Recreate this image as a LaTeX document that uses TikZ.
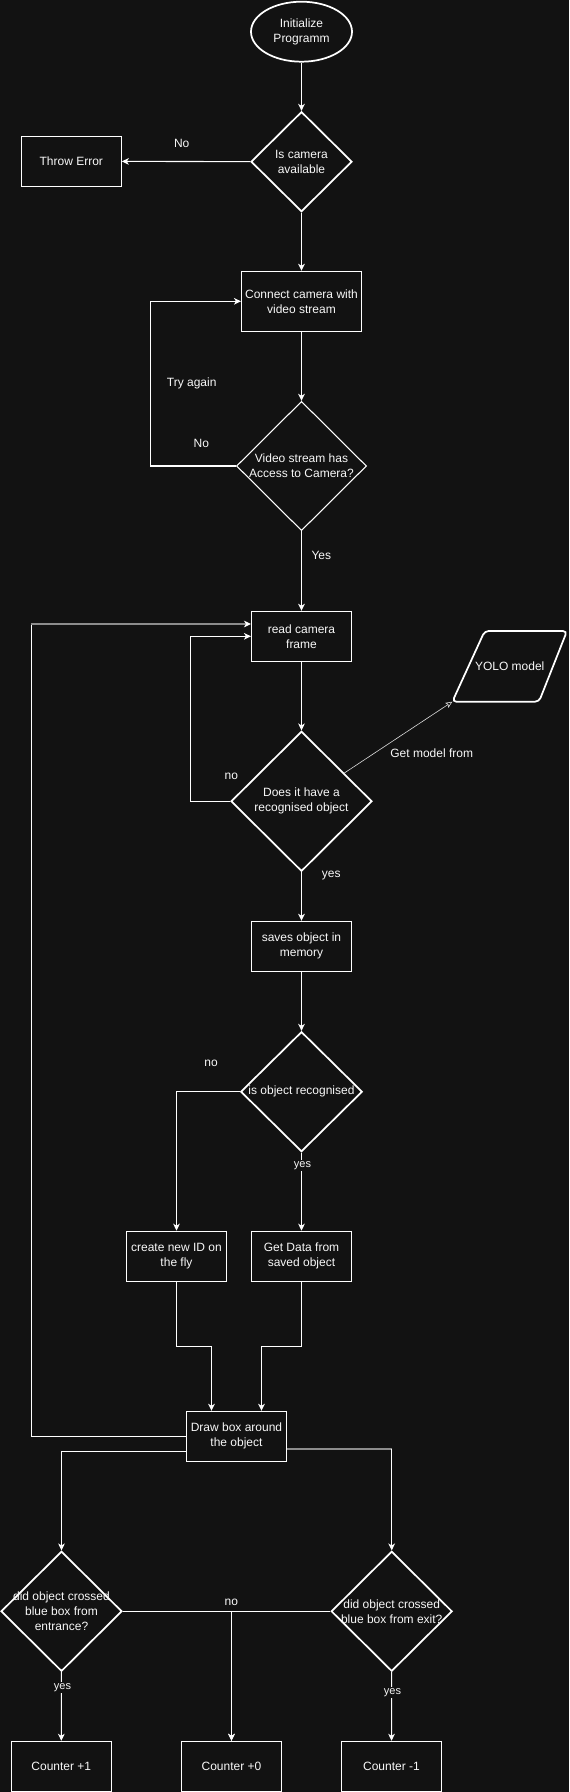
\documentclass[tikz,border=0pt]{standalone}
\usepackage{fontspec}
\setmainfont{Liberation Sans}
\usetikzlibrary{shapes.geometric,arrows.meta,calc}
\definecolor{bg}{HTML}{121212}
\definecolor{fg}{HTML}{F8F8F8}
\definecolor{dimline}{HTML}{8C8C8C}

\begin{document}
\begin{tikzpicture}[x=0.75pt,y=-0.75pt,
    font=\fontsize{9}{11.25}\selectfont, text=fg,
    box/.style={draw=white, line width=0.8pt, minimum width=75pt, minimum height=37.5pt, inner sep=0pt, align=center},
    decision/.style={diamond, draw=white, line width=1.3pt, inner sep=0pt},
    link/.style={draw=white, line width=0.8pt},
    flow/.style={link, -{Stealth[length=5.25pt,width=5pt,inset=1.5pt]}},
    flowgrey/.style={link, draw=dimline, -{Stealth[length=5.25pt,width=5pt,inset=1.5pt,color=white]}},
    lbl/.style={inner sep=1pt, align=center},
    lblsmall/.style={lbl, fill=bg, font=\fontsize{8.25}{10}\selectfont}]
        \useasboundingbox[fill=bg] (0,0) rectangle (569,1792);
        % nodes
        \node[ellipse, draw=white, line width=1.3pt, minimum width=75.75pt, minimum height=45pt, inner sep=0pt, align=center] (init) at (301.5,31.7) {Initialize\\Programm};
        \node[decision, minimum width=75.75pt, minimum height=75pt, label={[lbl]center:Is camera\\available}] (camok) at (301.5,161.7) {};
        \node[box] (err) at (71.3,161.3) {Throw Error};
        \node[box, minimum width=90pt, minimum height=45pt] (connect) at (301.5,301.3) {Connect camera with\\video stream};
        \node[decision, line width=0.8pt, minimum width=97.5pt, minimum height=97pt, label={[lbl]center:Video stream has\\Access to Camera?}] (access) at (301.5,466) {};
        \node[box] (read) at (301.5,636.3) {read camera\\frame};
        \node[decision, minimum width=105.75pt, minimum height=105pt, label={[lbl]center:Does it have a\\recognised object}] (detect) at (301.5,801.3) {};
        \node (yolo) at (509.7,666.3) {YOLO model};
        \draw[white, line width=1.3pt, rounded corners=3pt] (452.3,701.7) coordinate (yolocorner) -- (484.7,631) -- (567,631) -- (539,701.7) -- cycle;
        \node[box] (save) at (301.5,946.3) {saves object in\\memory};
        \node[decision, minimum width=91.2pt, minimum height=90pt, label={[lbl]center:is object recognised}] (known) at (301.5,1091.7) {};
        \node[box] (newid) at (176.5,1256.2) {create new ID on\\the fly};
        \node[box] (getdata) at (301.5,1256.2) {Get Data from\\saved object};
        \node[box] (drawbox) at (236.5,1436.3) {Draw box around\\the object};
        \node[decision, minimum width=90.75pt, minimum height=90pt, label={[lbl]center:did object crossed\\blue box from\\entrance?}] (entry) at (61.5,1611.3) {};
        \node[decision, minimum width=90.75pt, minimum height=90pt, label={[lbl]center:did object crossed\\blue box from exit?}] (exit) at (391.7,1611.3) {};
        \node[box] (plus) at (61.3,1766.3) {Counter +1};
        \node[box] (zero) at (231.5,1766.3) {Counter +0};
        \node[box] (minus) at (391.5,1766.3) {Counter -1};
        % connectors
        \draw[flow] (init) -- (camok);
        \draw[flow] (camok) -- (err);
        \draw[flow] (camok) -- (connect);
        \draw[flow] (connect) -- (access);
        \draw[flow] (access.west) -- ++(-85.4,0) |- (connect.west);
        \draw[flow] (access) -- (read);
        \draw[flow] (read) -- (detect);
        \draw[flow] (detect.west) -- ++(-39.6,0) |- (read.west);
        \draw[draw=white!85!bg, line width=0.45pt, -{Stealth[open,length=5pt,width=4.5pt,inset=1pt]}] (detect) -- (yolocorner);
        \draw[flow] (detect) -- (save);
        \draw[flow] (save) -- (known);
        \draw[flow] (known.west) -| (newid.north);
        \draw[flow] (known) -- (getdata);
        \draw[flow] (newid.south) -- ++(0,65) -| ($(drawbox.north)+(-25,0)$);
        \draw[flow] (getdata.south) -- ++(0,65) -| ($(drawbox.north)+(25,0)$);
        \coordinate (looptop) at (31.3,624);
        \draw[link] (drawbox.west) -| (looptop);
        \draw[flowgrey] (looptop) -- (looptop -| read.west);
        \coordinate (entryturn) at (61.5,1451.3);
        \draw[flow] (drawbox.west |- entryturn) -- (entryturn) -- (entry.north);
        \coordinate (exitturn) at (391.7,1449);
        \draw[link, draw=dimline] (drawbox.east |- exitturn) -- (exitturn);
        \draw[flow] (exitturn) -- (exit.north);
        \draw[flow] (entry) -- (plus);
        \draw[flow] (exit) -- (minus);
        \draw[flow] (entry.east) -| (zero.north);
        \draw[flow] (exit.west) -| (zero.north);
        % edge labels
        \node[lbl] (nocam) at (181.7,143.7) {No};
        \node[lbl] (retry) at (191.7,383.7) {Try again};
        \node[lbl] (noaccess) at (201.3,443.7) {No};
        \node[lbl] (yesaccess) at (321.3,555.7) {Yes};
        \node[lbl] (nodetect) at (231.3,776) {no};
        \node[lbl] (getmodel) at (431.7,753.7) {Get model from};
        \node[lbl] (yesdetect) at (331.3,876) {yes};
        \node[lbl] (noknown) at (211,1063.7) {no};
        \node[lblsmall] (yesknown) at (302.5,1165.3) {yes};
        \node[lbl] (nocount) at (231.3,1602) {no};
        \node[lblsmall] (yesentry) at (62.5,1687.7) {yes};
        \node[lblsmall] (yesexit) at (392.5,1692.3) {yes};
\end{tikzpicture}
\end{document}
